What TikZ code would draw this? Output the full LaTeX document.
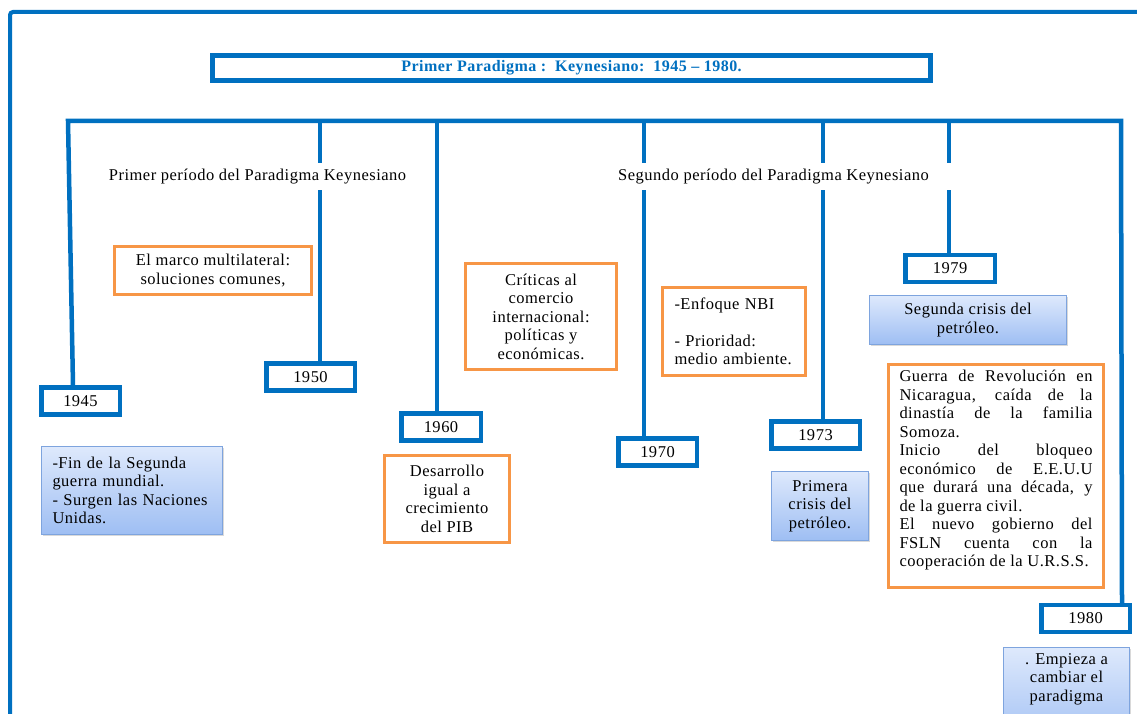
\documentclass[tikz,border=0pt]{standalone}
\usepackage{fontspec}
\setmainfont{Liberation Serif}[LetterSpace=3]
\usetikzlibrary{shadows}
\definecolor{kblue}{RGB}{0,112,192}
\definecolor{korange}{RGB}{247,150,70}
\definecolor{gtop}{RGB}{222,233,252}
\definecolor{gbot}{RGB}{158,190,243}
\definecolor{gedge}{RGB}{126,164,222}

\begin{document}
\begin{tikzpicture}[x=1pt,y=-1pt,
  every node/.style={font=\fontsize{16.5}{18.5}\selectfont},
  yearbox/.style={draw=kblue, line width=4.5pt, fill=white, minimum height=27pt, inner sep=0pt},
  notebox/.style={draw=korange, line width=3pt, fill=white, inner sep=0pt},
  eventbox/.style={draw=gedge, line width=1.2pt, top color=gtop, bottom color=gbot, inner sep=0pt,
    drop shadow={shadow xshift=1.5pt, shadow yshift=-1.5pt, opacity=0.3}},
  link/.style={draw=kblue, line width=4.5pt},
  period/.style={fill=white, minimum height=27pt, inner ysep=0pt}
]
\useasboundingbox (0,0) rectangle (1137,714);

% outer frame
\draw[kblue, line width=4pt, rounded corners=3pt] (10,740) -- (10,12) -- (1150,12);

% title
\node[draw=kblue, line width=4.5pt, fill=white, minimum width=718pt, minimum height=25pt,
      inner sep=0pt, font=\fontsize{16}{18}\selectfont\bfseries, text=kblue]
      (title) at (571.5,68) {Primer Paradigma :\ \ Keynesiano:\ \ 1945 – 1980.};

% year markers
\node[yearbox, minimum width=78.5pt] (y45) at (80.5,401)   {1945};
\node[yearbox, minimum width=88.5pt] (y50) at (310.5,377)  {1950};
\node[yearbox, minimum width=79.5pt] (y60) at (441,427)    {1960};
\node[yearbox, minimum width=78.5pt] (y70) at (657.5,452)  {1970};
\node[yearbox, minimum width=88.5pt] (y73) at (815.5,435)  {1973};
\node[yearbox, minimum width=89.5pt] (y79) at (950,268.5)  {1979};
\node[yearbox, minimum width=88.5pt] (y80) at (1085.5,618.5) {1980};

% time bar
\coordinate (bL)  at (68,121);
\coordinate (bR)  at (1121,121);
\coordinate (b50) at (320,121);
\coordinate (b60) at (437,121);
\coordinate (b70) at (644,121);
\coordinate (b73) at (823,121);
\coordinate (b79) at (949,121);

\draw[link] ([xshift=-7.5pt]y45.north) -- (bL) -- (bR) -- ([xshift=36.5pt]y80.north);
\draw[link] (b50) -- ([xshift=9.5pt]y50.north);
\draw[link] (b60) -- ([xshift=-4pt]y60.north);
\draw[link] (b70) -- ([xshift=-13.5pt]y70.north);
\draw[link] (b73) -- ([xshift=7.5pt]y73.north);
\draw[link] (b79) -- ([xshift=-1pt]y79.north);

% period labels over the bar stems
\node[period, inner xsep=6pt]  (p1) at (257.5,176.5) {Primer período del Paradigma Keynesiano};
\node[period, inner xsep=28pt] (p2) at (773.5,176.5) {Segundo período del Paradigma Keynesiano};

% notes
\node[notebox, minimum width=197pt, minimum height=48pt, align=center] (n50) at (213,270.5)
  {El marco multilateral:\\ soluciones comunes,};
\node[notebox, minimum width=151pt, minimum height=106pt, align=center] (n60) at (541,316.5)
  {Críticas al\\ comercio\\ internacional:\\ políticas y\\ económicas.};
\node[notebox, minimum width=125pt, minimum height=87pt, align=center] (n60b) at (447,499)
  {Desarrollo\\ igual a\\ crecimiento\\ del PIB};
\node[notebox, minimum width=143pt, minimum height=88pt, text width=119pt, align=left,
      inner xsep=12pt] (n70) at (734,331.5)
  {-Enfoque NBI\\[18.5pt] - Prioridad:\\ medio ambiente.};
\node[notebox, inner xsep=11pt, inner ysep=6pt] (n79) at (996,476)
  {\parbox[c][211pt][t]{193pt}{\hyphenpenalty=10000 \tolerance=10000
   Guerra de Revolución en\linebreak Nicaragua, caída de la\linebreak
   dinastía de la familia\linebreak Somoza.\par
   Inicio del bloqueo\linebreak económico de E.E.U.U\linebreak
   que durará una década, y\linebreak de la guerra civil.\par
   El nuevo gobierno del\linebreak FSLN cuenta con la\linebreak
   cooperación de la U.R.S.S.}};

% events
\node[eventbox, minimum width=181pt, minimum height=88pt, text width=159pt, inner xsep=11pt,
      align=left] (e45) at (132,490.5)
  {-Fin de la Segunda\\ guerra mundial.\\ - Surgen las Naciones\\ Unidas.};
\node[eventbox, minimum width=97pt, minimum height=69pt, align=center] (e73) at (820,506)
  {Primera\\ crisis del\\ petróleo.};
\node[eventbox, minimum width=197pt, minimum height=49pt, align=center] (e79) at (968,320)
  {Segunda crisis del\\ petróleo.};
\node[eventbox, anchor=north, inner xsep=3pt, inner ysep=6pt] (e80) at (1066.5,646.5)
  {\parbox[c][90pt][t]{120pt}{\centering . Empieza a\\ cambiar el\\ paradigma}};
\end{tikzpicture}
\end{document}
